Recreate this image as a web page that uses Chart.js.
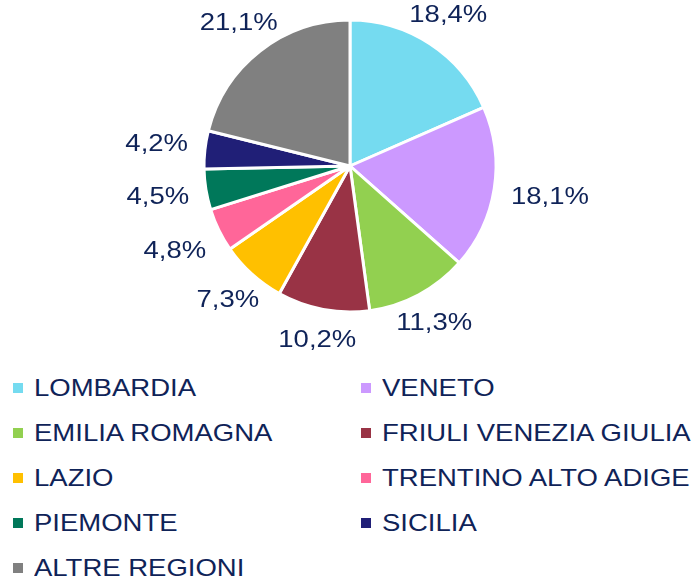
<!DOCTYPE html>
<html lang="it">
<head>
    <meta charset="UTF-8">
    <title>Ripartizione per regione</title>
    <script src="https://cdn.jsdelivr.net/npm/chart.js"></script>
    <style>
        body {
            margin: 0;
            background: #fff;
        }
        .wrap {
            position: relative;
            width: 700px;
            height: 579px;
        }
        #pie {
            position: absolute;
            left: 0;
            top: 0;
        }
        .item {
            position: absolute;
            height: 30px;
            font-family: "Liberation Sans", Arial, sans-serif;
            font-size: 27.5px;
            color: #0f2358;
            white-space: nowrap;
        }
        .item .box {
            position: absolute;
            left: 0;
            top: 10px;
            width: 10px;
            height: 10px;
        }
        .item .txt {
            position: absolute;
            left: 21px;
            top: 0;
            line-height: 30px;
            transform: scaleY(0.88);
            transform-origin: left center;
        }
    </style>
</head>
<body>
    <div class="wrap">
        <canvas id="pie" width="700" height="360"></canvas>
        <div id="legend"></div>
    </div>

    <script>
    // data
    const regions = ['LOMBARDIA', 'VENETO', 'EMILIA ROMAGNA', 'FRIULI VENEZIA GIULIA', 'LAZIO',
        'TRENTINO ALTO ADIGE', 'PIEMONTE', 'SICILIA', 'ALTRE REGIONI'];
    const shares = [18.4, 18.1, 11.3, 10.2, 7.3, 4.8, 4.5, 4.2, 21.1];
    const colors = ['#75dbf0', '#cc99ff', '#92d050', '#993345', '#ffc000',
        '#ff6699', '#00785a', '#201f77', '#808080'];

    const textColor = '#0f2358';

    // percentage labels outside each slice
    const outsideLabels = {
        id: 'outsideLabels',
        afterDatasetsDraw(chart) {
            const ctx = chart.ctx;
            const arcs = chart.getDatasetMeta(0).data;
            ctx.save();
            ctx.font = '27.5px "Liberation Sans", Arial, sans-serif';
            ctx.fillStyle = textColor;
            ctx.textAlign = 'center';
            ctx.textBaseline = 'middle';
            arcs.forEach((arc, i) => {
                const p = arc.getProps(['x', 'y', 'startAngle', 'endAngle', 'outerRadius'], true);
                const mid = (p.startAngle + p.endAngle) / 2;
                const cx = Math.cos(mid);
                const cy = Math.sin(mid);
                const text = shares[i].toFixed(1).replace('.', ',') + '%';
                const w = ctx.measureText(text).width;
                const halfW = w / 2, halfH = 14;
                const reach = Math.min(
                    Math.abs(cx) > 1e-6 ? halfW / Math.abs(cx) : Infinity,
                    Math.abs(cy) > 1e-6 ? halfH / Math.abs(cy) : Infinity
                );
                const d = p.outerRadius + 17 + reach;
                ctx.save();
                ctx.translate(p.x + cx * d, p.y + cy * d);
                ctx.scale(1, 0.88);
                ctx.fillText(text, 0, 0);
                ctx.restore();
            });
            ctx.restore();
        }
    };

    new Chart(document.getElementById('pie').getContext('2d'), {
        type: 'pie',
        data: {
            labels: regions,
            datasets: [{
                data: shares,
                backgroundColor: colors,
                borderColor: '#ffffff',
                borderWidth: 3
            }]
        },
        options: {
            responsive: false,
            animation: false,
            radius: 146,
            layout: { padding: { top: 0, bottom: 28, left: 0, right: 0 } },
            plugins: {
                legend: { display: false },
                tooltip: { enabled: false }
            }
        },
        plugins: [outsideLabels]
    });

    // legend in two columns below the pie
    const legend = document.getElementById('legend');
    regions.forEach((name, i) => {
        const row = Math.floor(i / 2);
        const col = i % 2;
        const item = document.createElement('div');
        item.className = 'item';
        item.style.left = (col === 0 ? 13 : 361) + 'px';
        item.style.top = (373 + row * 44.9) + 'px';
        item.innerHTML = '<span class="box" style="background:' + colors[i] + '"></span>' +
            '<span class="txt">' + name + '</span>';
        legend.appendChild(item);
    });
    </script>
</body>
</html>
